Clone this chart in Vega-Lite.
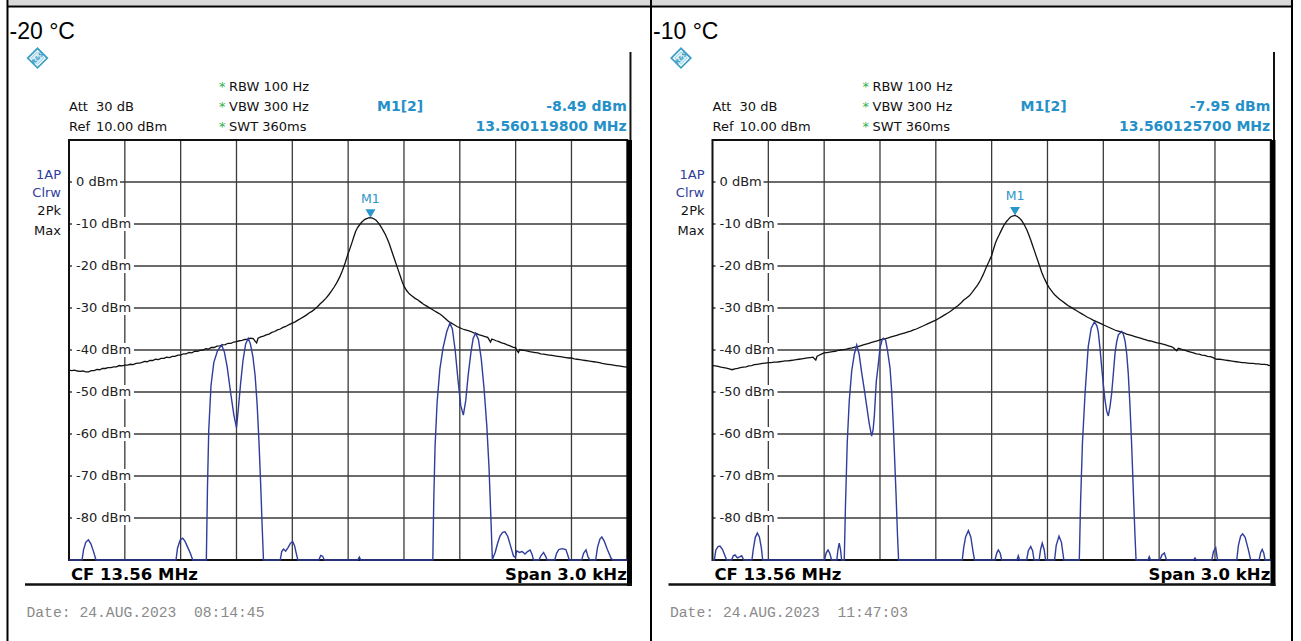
{
"$schema": "https://vega.github.io/schema/vega-lite/v6.json",
"width": 1301,
"height": 641,
"autosize": {"type": "none"},
"padding": 0,
"background": "#ffffff",
"config": {"view": {"stroke": null}, "axis": {"disable": true}},
"datasets": {
"panels": [
{"panel": "-20 °C", "marker": "M1[2]", "marker_offset_hz": 119.8, "marker_dbm": -8.49, "marker_level": "-8.49 dBm", "marker_freq": "13.560119800 MHz", "date": "Date: 24.AUG.2023\u00a0 08:14:45"},
{"panel": "-10 °C", "marker": "M1[2]", "marker_offset_hz": 125.7, "marker_dbm": -7.95, "marker_level": "-7.95 dBm", "marker_freq": "13.560125700 MHz", "date": "Date: 24.AUG.2023\u00a0 11:47:03"}
],
"freq_grid": [{"f": -1200}, {"f": -900}, {"f": -600}, {"f": -300}, {"f": 0}, {"f": 300}, {"f": 600}, {"f": 900}, {"f": 1200}],
"level_grid": [{"lvl": 0, "label": "0 dBm"}, {"lvl": -10, "label": "-10 dBm"}, {"lvl": -20, "label": "-20 dBm"}, {"lvl": -30, "label": "-30 dBm"}, {"lvl": -40, "label": "-40 dBm"}, {"lvl": -50, "label": "-50 dBm"}, {"lvl": -60, "label": "-60 dBm"}, {"lvl": -70, "label": "-70 dBm"}, {"lvl": -80, "label": "-80 dBm"}],
"minus20_clrw": [
{"f":-1500,"p":-44.8},{"f":-1485,"p":-44.9},{"f":-1470,"p":-44.8},{"f":-1455,"p":-45.0},{"f":-1440,"p":-45.1},{"f":-1425,"p":-45.0},{"f":-1410,"p":-45.2},{"f":-1395,"p":-45.2},{"f":-1380,"p":-44.9},{"f":-1365,"p":-44.9},{"f":-1350,"p":-44.6},{"f":-1335,"p":-44.7},{"f":-1320,"p":-44.4},{"f":-1305,"p":-44.4},{"f":-1290,"p":-44.2},{"f":-1275,"p":-44.2},{"f":-1260,"p":-44.0},{"f":-1245,"p":-44.0},{"f":-1230,"p":-43.7},{"f":-1215,"p":-43.8},{"f":-1200,"p":-43.6},{"f":-1185,"p":-43.6},{"f":-1170,"p":-43.4},{"f":-1155,"p":-43.5},{"f":-1140,"p":-43.2},{"f":-1125,"p":-43.1},{"f":-1110,"p":-43.0},{"f":-1095,"p":-42.7},{"f":-1080,"p":-42.8},{"f":-1065,"p":-42.5},{"f":-1050,"p":-42.5},{"f":-1035,"p":-42.2},{"f":-1020,"p":-42.3},{"f":-1005,"p":-42.0},{"f":-990,"p":-42.0},{"f":-975,"p":-41.7},{"f":-960,"p":-41.8},{"f":-945,"p":-41.5},{"f":-930,"p":-41.5},{"f":-915,"p":-41.2},{"f":-900,"p":-41.2},{"f":-885,"p":-40.9},{"f":-870,"p":-40.9},{"f":-855,"p":-40.6},{"f":-840,"p":-40.7},{"f":-825,"p":-40.3},{"f":-810,"p":-40.3},{"f":-795,"p":-40.1},{"f":-780,"p":-40.0},{"f":-765,"p":-39.7},{"f":-750,"p":-39.8},{"f":-735,"p":-39.4},{"f":-720,"p":-39.4},{"f":-705,"p":-39.1},{"f":-690,"p":-39.0},{"f":-675,"p":-38.8},{"f":-660,"p":-38.7},{"f":-645,"p":-38.4},{"f":-630,"p":-38.4},{"f":-615,"p":-38.1},{"f":-600,"p":-38.0},{"f":-585,"p":-37.8},{"f":-570,"p":-37.7},{"f":-555,"p":-37.5},{"f":-540,"p":-37.4},{"f":-525,"p":-37.2},{"f":-510,"p":-37.3},{"f":-500,"p":-37.9},{"f":-492,"p":-38.3},{"f":-484,"p":-37.2},{"f":-470,"p":-36.9},{"f":-455,"p":-36.7},{"f":-440,"p":-36.4},{"f":-425,"p":-36.2},{"f":-410,"p":-35.8},{"f":-395,"p":-35.6},{"f":-380,"p":-35.2},{"f":-365,"p":-35.0},{"f":-350,"p":-34.6},{"f":-335,"p":-34.4},{"f":-320,"p":-34.0},{"f":-300,"p":-33.6},{"f":-285,"p":-33.3},{"f":-270,"p":-32.9},{"f":-255,"p":-32.5},{"f":-240,"p":-32.1},{"f":-225,"p":-31.7},{"f":-210,"p":-31.2},{"f":-195,"p":-30.8},{"f":-180,"p":-30.3},{"f":-165,"p":-29.7},{"f":-150,"p":-29.0},{"f":-135,"p":-28.4},{"f":-120,"p":-27.7},{"f":-105,"p":-26.9},{"f":-90,"p":-26.0},{"f":-75,"p":-25.0},{"f":-60,"p":-23.9},{"f":-45,"p":-22.6},{"f":-30,"p":-21.0},{"f":-15,"p":-19.1},{"f":0,"p":-17.0},{"f":10,"p":-15.8},{"f":20,"p":-14.5},{"f":30,"p":-13.1},{"f":40,"p":-11.8},{"f":50,"p":-10.9},{"f":60,"p":-10.3},{"f":70,"p":-9.7},{"f":80,"p":-9.3},{"f":90,"p":-8.9},{"f":100,"p":-8.7},{"f":110,"p":-8.55},{"f":119.8,"p":-8.49},{"f":130,"p":-8.6},{"f":140,"p":-8.8},{"f":150,"p":-9.1},{"f":160,"p":-9.6},{"f":170,"p":-10.2},{"f":180,"p":-10.9},{"f":190,"p":-11.7},{"f":200,"p":-12.5},{"f":210,"p":-13.5},{"f":220,"p":-14.6},{"f":230,"p":-15.9},{"f":240,"p":-17.2},{"f":250,"p":-18.5},{"f":260,"p":-19.8},{"f":270,"p":-21.1},{"f":280,"p":-22.4},{"f":290,"p":-23.7},{"f":300,"p":-24.8},{"f":315,"p":-25.9},{"f":330,"p":-26.7},{"f":345,"p":-27.2},{"f":360,"p":-27.7},{"f":375,"p":-28.1},{"f":390,"p":-28.6},{"f":405,"p":-29.1},{"f":420,"p":-29.5},{"f":435,"p":-29.9},{"f":450,"p":-30.3},{"f":465,"p":-30.7},{"f":480,"p":-31.1},{"f":495,"p":-31.5},{"f":510,"p":-32.0},{"f":525,"p":-32.6},{"f":540,"p":-33.2},{"f":555,"p":-33.6},{"f":570,"p":-34.0},{"f":585,"p":-34.4},{"f":600,"p":-34.7},{"f":615,"p":-35.0},{"f":630,"p":-35.2},{"f":645,"p":-35.4},{"f":660,"p":-35.6},{"f":675,"p":-35.9},{"f":690,"p":-36.1},{"f":705,"p":-36.4},{"f":720,"p":-36.6},{"f":735,"p":-36.8},{"f":750,"p":-37.0},{"f":758,"p":-37.6},{"f":765,"p":-38.1},{"f":772,"p":-37.4},{"f":780,"p":-37.5},{"f":795,"p":-37.8},{"f":810,"p":-38.0},{"f":825,"p":-38.3},{"f":840,"p":-38.5},{"f":855,"p":-38.8},{"f":870,"p":-39.0},{"f":885,"p":-39.3},{"f":900,"p":-39.5},{"f":908,"p":-40.2},{"f":915,"p":-40.6},{"f":922,"p":-39.9},{"f":930,"p":-40.0},{"f":945,"p":-40.1},{"f":960,"p":-40.2},{"f":975,"p":-40.4},{"f":990,"p":-40.5},{"f":1005,"p":-40.6},{"f":1020,"p":-40.7},{"f":1035,"p":-40.9},{"f":1050,"p":-41.0},{"f":1065,"p":-41.1},{"f":1080,"p":-41.2},{"f":1095,"p":-41.3},{"f":1110,"p":-41.4},{"f":1125,"p":-41.5},{"f":1140,"p":-41.6},{"f":1155,"p":-41.7},{"f":1170,"p":-41.8},{"f":1185,"p":-41.9},{"f":1200,"p":-41.9},{"f":1215,"p":-42.1},{"f":1230,"p":-42.2},{"f":1245,"p":-42.3},{"f":1260,"p":-42.4},{"f":1275,"p":-42.5},{"f":1290,"p":-42.6},{"f":1305,"p":-42.7},{"f":1320,"p":-42.8},{"f":1335,"p":-42.9},{"f":1350,"p":-43.0},{"f":1365,"p":-43.2},{"f":1380,"p":-43.3},{"f":1395,"p":-43.4},{"f":1410,"p":-43.5},{"f":1425,"p":-43.6},{"f":1440,"p":-43.7},{"f":1455,"p":-43.8},{"f":1470,"p":-43.9},{"f":1485,"p":-44.0},{"f":1500,"p":-44.1}
],
"minus20_max": [
{"f":-1500,"p":-90},{"f":-1430,"p":-90},{"f":-1422,"p":-87.6},{"f":-1410,"p":-85.8},{"f":-1396,"p":-85.2},{"f":-1383,"p":-86.1},{"f":-1368,"p":-88.0},{"f":-1355,"p":-90},
{"f":-925,"p":-90},{"f":-917,"p":-87.2},{"f":-903,"p":-85.3},{"f":-889,"p":-84.8},{"f":-877,"p":-85.5},{"f":-862,"p":-87.0},{"f":-848,"p":-88.4},{"f":-835,"p":-90},
{"f":-762,"p":-90},{"f":-756,"p":-73},{"f":-749,"p":-59},{"f":-737,"p":-48.5},{"f":-722,"p":-43},{"f":-702,"p":-40.2},{"f":-680,"p":-38.8},{"f":-665,"p":-40.5},{"f":-650,"p":-44},{"f":-632,"p":-50},{"f":-614,"p":-55.5},{"f":-600,"p":-58.5},{"f":-590,"p":-54},{"f":-578,"p":-48},{"f":-565,"p":-42.5},{"f":-551,"p":-38.6},{"f":-537,"p":-37.2},{"f":-525,"p":-38.6},{"f":-512,"p":-41.5},{"f":-500,"p":-46},{"f":-489,"p":-53},{"f":-479,"p":-62},{"f":-470,"p":-72},{"f":-462,"p":-82},{"f":-455,"p":-90},
{"f":-365,"p":-90},{"f":-357,"p":-88.0},{"f":-347,"p":-87.4},{"f":-336,"p":-87.9},{"f":-322,"p":-87.0},{"f":-310,"p":-86.0},{"f":-298,"p":-85.6},{"f":-288,"p":-86.6},{"f":-278,"p":-88.6},{"f":-270,"p":-90},
{"f":-158,"p":-90},{"f":-147,"p":-88.9},{"f":-137,"p":-89.1},{"f":-128,"p":-90},
{"f":52,"p":-90},{"f":60,"p":-89.3},{"f":68,"p":-90},
{"f":455,"p":-90},{"f":460,"p":-76},{"f":467,"p":-63},{"f":478,"p":-52.5},{"f":493,"p":-44.5},{"f":510,"p":-39.5},{"f":530,"p":-35.6},{"f":547,"p":-33.6},{"f":560,"p":-35},{"f":575,"p":-40},{"f":590,"p":-47},{"f":605,"p":-53.2},{"f":619,"p":-55.5},{"f":632,"p":-52},{"f":645,"p":-46},{"f":660,"p":-40.5},{"f":672,"p":-37.2},{"f":685,"p":-36.0},{"f":700,"p":-37.5},{"f":715,"p":-42},{"f":730,"p":-49},{"f":745,"p":-58},{"f":757,"p":-68},{"f":767,"p":-80},{"f":775,"p":-90},
{"f":780,"p":-89.3},{"f":790,"p":-88.2},{"f":802,"p":-86.2},{"f":816,"p":-84.3},{"f":830,"p":-83.4},{"f":843,"p":-83.3},{"f":858,"p":-84.4},{"f":873,"p":-86.7},{"f":888,"p":-89.0},{"f":898,"p":-89.4},{"f":906,"p":-87.8},{"f":920,"p":-88.2},{"f":935,"p":-88.0},{"f":950,"p":-88.6},{"f":964,"p":-88.0},{"f":978,"p":-87.6},{"f":988,"p":-88.6},{"f":996,"p":-90},
{"f":1025,"p":-90},{"f":1036,"p":-89.0},{"f":1050,"p":-88.2},{"f":1062,"p":-89.2},{"f":1070,"p":-90},
{"f":1110,"p":-90},{"f":1120,"p":-88.4},{"f":1132,"p":-87.5},{"f":1150,"p":-87.3},{"f":1170,"p":-87.5},{"f":1180,"p":-88.8},{"f":1188,"p":-90},
{"f":1255,"p":-90},{"f":1265,"p":-88.4},{"f":1278,"p":-87.6},{"f":1290,"p":-89.4},{"f":1300,"p":-90},
{"f":1330,"p":-90},{"f":1340,"p":-87},{"f":1353,"p":-85.0},{"f":1363,"p":-84.5},{"f":1376,"p":-85.5},{"f":1393,"p":-87.5},{"f":1413,"p":-89.6},{"f":1423,"p":-90},{"f":1500,"p":-90}
],
"minus10_clrw": [
{"f":-1500,"p":-43.7},{"f":-1485,"p":-43.8},{"f":-1470,"p":-43.9},{"f":-1455,"p":-44.1},{"f":-1440,"p":-44.2},{"f":-1425,"p":-44.3},{"f":-1410,"p":-44.5},{"f":-1395,"p":-44.7},{"f":-1380,"p":-44.5},{"f":-1365,"p":-44.4},{"f":-1350,"p":-44.2},{"f":-1335,"p":-44.1},{"f":-1320,"p":-44.0},{"f":-1305,"p":-43.8},{"f":-1290,"p":-43.7},{"f":-1275,"p":-43.5},{"f":-1260,"p":-43.4},{"f":-1245,"p":-43.3},{"f":-1230,"p":-43.2},{"f":-1215,"p":-43.1},{"f":-1200,"p":-43.0},{"f":-1185,"p":-43.0},{"f":-1170,"p":-42.9},{"f":-1155,"p":-42.9},{"f":-1140,"p":-42.8},{"f":-1125,"p":-42.7},{"f":-1110,"p":-42.6},{"f":-1095,"p":-42.6},{"f":-1080,"p":-42.5},{"f":-1065,"p":-42.4},{"f":-1050,"p":-42.3},{"f":-1035,"p":-42.2},{"f":-1020,"p":-42.1},{"f":-1005,"p":-42.0},{"f":-990,"p":-41.9},{"f":-975,"p":-41.8},{"f":-960,"p":-41.7},{"f":-952,"p":-42.1},{"f":-945,"p":-42.4},{"f":-938,"p":-41.5},{"f":-930,"p":-41.3},{"f":-915,"p":-41.0},{"f":-900,"p":-40.7},{"f":-885,"p":-40.6},{"f":-870,"p":-40.5},{"f":-855,"p":-40.4},{"f":-840,"p":-40.3},{"f":-825,"p":-40.1},{"f":-810,"p":-40.0},{"f":-795,"p":-39.9},{"f":-780,"p":-39.8},{"f":-765,"p":-39.6},{"f":-750,"p":-39.5},{"f":-735,"p":-39.3},{"f":-720,"p":-39.2},{"f":-705,"p":-39.0},{"f":-690,"p":-38.8},{"f":-675,"p":-38.6},{"f":-660,"p":-38.4},{"f":-645,"p":-38.2},{"f":-630,"p":-38.0},{"f":-615,"p":-37.8},{"f":-600,"p":-37.6},{"f":-585,"p":-37.4},{"f":-570,"p":-37.3},{"f":-555,"p":-37.1},{"f":-540,"p":-36.9},{"f":-525,"p":-36.7},{"f":-510,"p":-36.5},{"f":-495,"p":-36.3},{"f":-480,"p":-36.1},{"f":-465,"p":-35.9},{"f":-450,"p":-35.7},{"f":-435,"p":-35.5},{"f":-420,"p":-35.2},{"f":-405,"p":-35.0},{"f":-390,"p":-34.7},{"f":-375,"p":-34.4},{"f":-360,"p":-34.1},{"f":-345,"p":-33.8},{"f":-330,"p":-33.5},{"f":-315,"p":-33.2},{"f":-300,"p":-32.9},{"f":-285,"p":-32.5},{"f":-270,"p":-32.1},{"f":-255,"p":-31.7},{"f":-240,"p":-31.3},{"f":-225,"p":-30.9},{"f":-210,"p":-30.4},{"f":-195,"p":-29.9},{"f":-180,"p":-29.4},{"f":-165,"p":-28.8},{"f":-150,"p":-28.1},{"f":-135,"p":-27.6},{"f":-120,"p":-27.1},{"f":-105,"p":-26.3},{"f":-90,"p":-25.4},{"f":-75,"p":-24.5},{"f":-60,"p":-23.4},{"f":-45,"p":-22.0},{"f":-30,"p":-20.4},{"f":-15,"p":-19.0},{"f":0,"p":-17.5},{"f":10,"p":-16.0},{"f":20,"p":-14.6},{"f":30,"p":-13.5},{"f":40,"p":-12.6},{"f":50,"p":-11.7},{"f":60,"p":-10.8},{"f":70,"p":-10.0},{"f":80,"p":-9.4},{"f":90,"p":-8.9},{"f":100,"p":-8.4},{"f":112,"p":-8.1},{"f":125.7,"p":-7.95},{"f":138,"p":-8.2},{"f":150,"p":-8.6},{"f":160,"p":-9.1},{"f":170,"p":-9.8},{"f":180,"p":-10.6},{"f":190,"p":-11.5},{"f":200,"p":-12.6},{"f":210,"p":-13.8},{"f":220,"p":-15.1},{"f":230,"p":-16.4},{"f":240,"p":-17.7},{"f":250,"p":-19.0},{"f":260,"p":-20.3},{"f":270,"p":-21.6},{"f":280,"p":-22.7},{"f":290,"p":-23.6},{"f":300,"p":-24.5},{"f":310,"p":-25.2},{"f":320,"p":-25.8},{"f":330,"p":-26.4},{"f":340,"p":-26.9},{"f":350,"p":-27.3},{"f":365,"p":-27.9},{"f":380,"p":-28.4},{"f":395,"p":-28.9},{"f":410,"p":-29.4},{"f":425,"p":-29.8},{"f":440,"p":-30.2},{"f":455,"p":-30.6},{"f":470,"p":-31.0},{"f":485,"p":-31.4},{"f":500,"p":-31.8},{"f":515,"p":-32.2},{"f":530,"p":-32.5},{"f":545,"p":-32.9},{"f":560,"p":-33.2},{"f":575,"p":-33.5},{"f":590,"p":-33.8},{"f":605,"p":-34.1},{"f":620,"p":-34.4},{"f":635,"p":-34.7},{"f":650,"p":-35.0},{"f":665,"p":-35.3},{"f":680,"p":-35.5},{"f":695,"p":-35.7},{"f":710,"p":-35.9},{"f":725,"p":-36.2},{"f":740,"p":-36.4},{"f":755,"p":-36.6},{"f":770,"p":-36.8},{"f":785,"p":-37.0},{"f":800,"p":-37.2},{"f":815,"p":-37.4},{"f":830,"p":-37.6},{"f":845,"p":-37.8},{"f":860,"p":-37.9},{"f":875,"p":-38.1},{"f":890,"p":-38.3},{"f":905,"p":-38.4},{"f":920,"p":-38.6},{"f":935,"p":-38.8},{"f":950,"p":-39.0},{"f":965,"p":-39.2},{"f":975,"p":-39.4},{"f":985,"p":-39.8},{"f":995,"p":-40.2},{"f":1003,"p":-39.6},{"f":1010,"p":-39.7},{"f":1025,"p":-39.9},{"f":1040,"p":-40.1},{"f":1055,"p":-40.3},{"f":1070,"p":-40.5},{"f":1085,"p":-40.7},{"f":1100,"p":-40.9},{"f":1115,"p":-41.0},{"f":1130,"p":-41.2},{"f":1145,"p":-41.3},{"f":1160,"p":-41.5},{"f":1175,"p":-41.6},{"f":1190,"p":-41.8},{"f":1203,"p":-42.1},{"f":1210,"p":-42.2},{"f":1225,"p":-42.2},{"f":1240,"p":-42.3},{"f":1255,"p":-42.4},{"f":1270,"p":-42.5},{"f":1285,"p":-42.6},{"f":1300,"p":-42.7},{"f":1315,"p":-42.8},{"f":1330,"p":-42.9},{"f":1345,"p":-43.0},{"f":1360,"p":-43.0},{"f":1375,"p":-43.1},{"f":1390,"p":-43.2},{"f":1405,"p":-43.2},{"f":1420,"p":-43.3},{"f":1435,"p":-43.3},{"f":1450,"p":-43.4},{"f":1465,"p":-43.4},{"f":1480,"p":-43.5},{"f":1490,"p":-43.7},{"f":1500,"p":-43.6}
],
"minus10_max": [
{"f":-1500,"p":-90},{"f":-1490,"p":-90},{"f":-1482,"p":-87.6},{"f":-1470,"p":-86.8},{"f":-1460,"p":-86.7},{"f":-1446,"p":-87.5},{"f":-1433,"p":-89},{"f":-1424,"p":-90},{"f":-1398,"p":-90},{"f":-1388,"p":-89.0},{"f":-1379,"p":-88.8},{"f":-1366,"p":-89.5},{"f":-1352,"p":-89.2},{"f":-1343,"p":-89.0},{"f":-1332,"p":-90},
{"f":-1288,"p":-90},{"f":-1281,"p":-87.5},{"f":-1270,"p":-84.6},{"f":-1259,"p":-83.6},{"f":-1248,"p":-84.5},{"f":-1238,"p":-87.0},{"f":-1230,"p":-90},
{"f":-898,"p":-90},{"f":-889,"p":-88.3},{"f":-879,"p":-87.6},{"f":-869,"p":-88.5},{"f":-860,"p":-90},{"f":-832,"p":-90},{"f":-826,"p":-87.6},{"f":-819,"p":-86.0},{"f":-812,"p":-87.6},{"f":-806,"p":-90},
{"f":-792,"p":-90},{"f":-786,"p":-78},{"f":-776,"p":-62},{"f":-765,"p":-52},{"f":-752,"p":-45},{"f":-738,"p":-41},{"f":-725,"p":-38.8},{"f":-712,"p":-41},{"f":-698,"p":-45.5},{"f":-684,"p":-49.5},{"f":-671,"p":-53.5},{"f":-658,"p":-57.5},{"f":-645,"p":-60.5},{"f":-637,"p":-59},{"f":-630,"p":-55.5},{"f":-620,"p":-47.5},{"f":-610,"p":-43.8},{"f":-600,"p":-39.5},{"f":-590,"p":-37.8},{"f":-582,"p":-37.2},{"f":-570,"p":-37.6},{"f":-560,"p":-40},{"f":-546,"p":-44.3},{"f":-537,"p":-50},{"f":-528,"p":-58.3},{"f":-514,"p":-74},{"f":-506,"p":-84},{"f":-500,"p":-90},
{"f":-158,"p":-90},{"f":-150,"p":-87},{"f":-140,"p":-84.5},{"f":-125,"p":-83.0},{"f":-112,"p":-84.5},{"f":-100,"p":-88},{"f":-92,"p":-90},
{"f":18,"p":-90},{"f":28,"p":-88.3},{"f":36,"p":-87.6},{"f":46,"p":-88.4},{"f":54,"p":-90},
{"f":136,"p":-90},{"f":143,"p":-89.0},{"f":150,"p":-90},
{"f":188,"p":-90},{"f":197,"p":-87.8},{"f":210,"p":-86.8},{"f":220,"p":-87.8},{"f":228,"p":-90},
{"f":255,"p":-90},{"f":263,"p":-87.5},{"f":272,"p":-86.0},{"f":282,"p":-87.5},{"f":290,"p":-90},
{"f":338,"p":-90},{"f":347,"p":-86.5},{"f":362,"p":-84.3},{"f":375,"p":-85.8},{"f":388,"p":-90},
{"f":471,"p":-90},{"f":478,"p":-76},{"f":488,"p":-62},{"f":502,"p":-50.3},{"f":519,"p":-39.2},{"f":535,"p":-34.8},{"f":552,"p":-33.3},{"f":565,"p":-34.2},{"f":573,"p":-35.7},{"f":582,"p":-39.5},{"f":591,"p":-44},{"f":600,"p":-48.2},{"f":609,"p":-51.9},{"f":618,"p":-54.5},{"f":627,"p":-55.7},{"f":636,"p":-53.5},{"f":645,"p":-50.3},{"f":654,"p":-45.6},{"f":663,"p":-40.8},{"f":672,"p":-38.0},{"f":681,"p":-36.4},{"f":699,"p":-35.6},{"f":708,"p":-36.3},{"f":717,"p":-37.9},{"f":726,"p":-41},{"f":734,"p":-45.5},{"f":743,"p":-53},{"f":752,"p":-62.2},{"f":760,"p":-72},{"f":765,"p":-78.1},{"f":771,"p":-85},{"f":776,"p":-90},
{"f":840,"p":-90},{"f":847,"p":-89.2},{"f":854,"p":-90},
{"f":904,"p":-90},{"f":915,"p":-88.8},{"f":928,"p":-88.3},{"f":940,"p":-90},
{"f":1085,"p":-90},{"f":1093,"p":-89.5},{"f":1100,"p":-90},
{"f":1183,"p":-90},{"f":1192,"p":-88.0},{"f":1204,"p":-87.1},{"f":1214,"p":-90},
{"f":1317,"p":-90},{"f":1326,"p":-86.5},{"f":1338,"p":-84.3},{"f":1349,"p":-83.8},{"f":1362,"p":-84.6},{"f":1378,"p":-87.3},{"f":1392,"p":-90},
{"f":1437,"p":-90},{"f":1446,"p":-88.2},{"f":1454,"p":-87.5},{"f":1462,"p":-88.3},{"f":1469,"p":-90},{"f":1500,"p":-90}
]
},
"layer": [
{
"layer": [
{"data": {"values": [{}]}, "mark": {"type": "rect", "color": "#d9d9d9"}, "encoding": {"x": {"datum": -1825.1, "type": "quantitative", "scale": {"domain": [-1870.77, 5120.15], "nice": false, "zero": false}, "axis": null}, "x2": {"datum": 5066.4}, "y": {"datum": 43.3333, "type": "quantitative", "scale": {"domain": [-109.2857, 43.3333], "nice": false, "zero": false}, "axis": null}, "y2": {"datum": 42.02}}},
{"data": {"values": [{}]}, "mark": {"type": "rule", "color": "#000000", "strokeWidth": 2}, "encoding": {"x": {"datum": -1830.5, "type": "quantitative", "axis": null}, "x2": {"datum": 5071.8}, "y": {"datum": 41.79, "type": "quantitative", "axis": null}}},
{"data": {"values": [{}]}, "mark": {"type": "rule", "color": "#000000", "strokeWidth": 2}, "encoding": {"x": {"datum": -1830.5, "type": "quantitative", "axis": null}, "y": {"datum": 43.3333, "type": "quantitative", "axis": null}, "y2": {"datum": -109.2857}}},
{"data": {"values": [{}]}, "mark": {"type": "rule", "color": "#000000", "strokeWidth": 2}, "encoding": {"x": {"datum": 1627.4, "type": "quantitative", "axis": null}, "y": {"datum": 43.3333, "type": "quantitative", "axis": null}, "y2": {"datum": -109.2857}}},
{"data": {"values": [{}]}, "mark": {"type": "rule", "color": "#000000", "strokeWidth": 2}, "encoding": {"x": {"datum": 5071.8, "type": "quantitative", "axis": null}, "y": {"datum": 43.3333, "type": "quantitative", "axis": null}, "y2": {"datum": -109.2857}}},

{"data": {"name": "panels"}, "transform": [{"filter": {"field": "panel", "equal": "-20 °C"}}], "mark": {"type": "text", "align": "left", "baseline": "alphabetic", "font": "Liberation Sans", "fontSize": 23, "color": "#000000"}, "encoding": {"x": {"datum": -1819.7, "type": "quantitative", "axis": null}, "y": {"datum": 33.93, "type": "quantitative", "axis": null}, "text": {"field": "panel"}}},
{"data": {"values": [{}]}, "mark": {"type": "point", "shape": "diamond", "size": 380, "filled": true, "fill": "#ffffff", "stroke": "#3d9fc4", "strokeWidth": 1.8, "opacity": 1}, "encoding": {"x": {"datum": -1669.3, "type": "quantitative", "axis": null}, "y": {"datum": 29.52, "type": "quantitative", "axis": null}}},
{"data": {"values": [{}]}, "mark": {"type": "point", "shape": "diamond", "size": 160, "filled": true, "fill": "#d6eef7", "stroke": "#7cc0dc", "strokeWidth": 0.8, "opacity": 1}, "encoding": {"x": {"datum": -1669.3, "type": "quantitative", "axis": null}, "y": {"datum": 29.52, "type": "quantitative", "axis": null}}},
{"data": {"values": [{}]}, "mark": {"type": "text", "text": "R&S", "font": "DejaVu Sans", "fontSize": 6, "fontWeight": "bold", "color": "#3d9fc4", "angle": 315, "align": "center", "baseline": "middle"}, "encoding": {"x": {"datum": -1669.3, "type": "quantitative", "axis": null}, "y": {"datum": 29.52, "type": "quantitative", "axis": null}}},

{"data": {"values": [{}]}, "mark": {"type": "text", "text": ["Att", "Ref"], "lineHeight": 20, "align": "left", "baseline": "middle", "font": "DejaVu Sans", "fontSize": 13, "color": "#111111"}, "encoding": {"x": {"datum": -1500, "type": "quantitative", "axis": null}, "y": {"datum": 17.86, "type": "quantitative", "axis": null}}},
{"data": {"values": [{}]}, "mark": {"type": "text", "text": ["30 dB", "10.00 dBm"], "lineHeight": 20, "align": "left", "baseline": "middle", "font": "DejaVu Sans", "fontSize": 13, "color": "#111111"}, "encoding": {"x": {"datum": -1354.9, "type": "quantitative", "axis": null}, "y": {"datum": 17.86, "type": "quantitative", "axis": null}}},
{"data": {"values": [{}]}, "mark": {"type": "text", "text": ["*", "*", "*"], "lineHeight": 20, "align": "left", "baseline": "middle", "font": "DejaVu Sans", "fontSize": 13, "color": "#2fb34a"}, "encoding": {"x": {"datum": -694, "type": "quantitative", "axis": null}, "y": {"datum": 22.62, "type": "quantitative", "axis": null}}},
{"data": {"values": [{}]}, "mark": {"type": "text", "text": ["RBW 100 Hz", "VBW 300 Hz", "SWT 360ms"], "lineHeight": 20, "align": "left", "baseline": "middle", "font": "DejaVu Sans", "fontSize": 13, "color": "#111111"}, "encoding": {"x": {"datum": -640, "type": "quantitative", "axis": null}, "y": {"datum": 22.62, "type": "quantitative", "axis": null}}},
{"data": {"name": "panels"}, "transform": [{"filter": {"field": "panel", "equal": "-20 °C"}}], "mark": {"type": "text", "align": "left", "baseline": "middle", "font": "DejaVu Sans", "fontWeight": "bold", "fontSize": 14, "color": "#2590c8"}, "encoding": {"x": {"datum": 155, "type": "quantitative", "axis": null}, "y": {"datum": 17.86, "type": "quantitative", "axis": null}, "text": {"field": "marker"}}},
{"data": {"name": "panels"}, "transform": [{"filter": {"field": "panel", "equal": "-20 °C"}}], "mark": {"type": "text", "align": "right", "baseline": "middle", "font": "DejaVu Sans", "fontWeight": "bold", "fontSize": 14, "color": "#2590c8"}, "encoding": {"x": {"datum": 1497, "type": "quantitative", "axis": null}, "y": {"datum": 17.86, "type": "quantitative", "axis": null}, "text": {"field": "marker_level"}}},
{"data": {"name": "panels"}, "transform": [{"filter": {"field": "panel", "equal": "-20 °C"}}], "mark": {"type": "text", "align": "right", "baseline": "middle", "font": "DejaVu Sans", "fontWeight": "bold", "fontSize": 14, "color": "#2590c8"}, "encoding": {"x": {"datum": 1497, "type": "quantitative", "axis": null}, "y": {"datum": 13.10, "type": "quantitative", "axis": null}, "text": {"field": "marker_freq"}}},
{"data": {"values": [{}]}, "mark": {"type": "text", "text": ["1AP", "Clrw"], "lineHeight": 18, "align": "right", "baseline": "middle", "font": "DejaVu Sans", "fontSize": 13, "color": "#2f3d9c"}, "encoding": {"x": {"datum": -1543, "type": "quantitative", "axis": null}, "y": {"datum": 1.67, "type": "quantitative", "axis": null}}},
{"data": {"values": [{}]}, "mark": {"type": "text", "text": ["2Pk", "Max"], "lineHeight": 20, "align": "right", "baseline": "middle", "font": "DejaVu Sans", "fontSize": 13, "color": "#111111"}, "encoding": {"x": {"datum": -1543, "type": "quantitative", "axis": null}, "y": {"datum": -6.90, "type": "quantitative", "axis": null}}},

{"data": {"name": "freq_grid"}, "mark": {"type": "rule", "color": "#3a3a3a", "strokeWidth": 1.3}, "encoding": {"x": {"field": "f", "type": "quantitative", "axis": null}, "y": {"datum": 10, "type": "quantitative", "axis": null}, "y2": {"datum": -90}}},
{"data": {"name": "level_grid"}, "mark": {"type": "rule", "color": "#3a3a3a", "strokeWidth": 1.3}, "encoding": {"y": {"field": "lvl", "type": "quantitative", "axis": null}, "x": {"datum": -1500, "type": "quantitative", "axis": null}, "x2": {"datum": 1500}}},
{"data": {"name": "level_grid"}, "transform": [{"filter": "datum.lvl === 0"}], "mark": {"type": "rule", "color": "#ffffff", "strokeWidth": 14}, "encoding": {"y": {"field": "lvl", "type": "quantitative", "axis": null}, "x": {"datum": -1484, "type": "quantitative", "axis": null}, "x2": {"datum": -1226}}},
{"data": {"name": "level_grid"}, "transform": [{"filter": "datum.lvl < 0"}], "mark": {"type": "rule", "color": "#ffffff", "strokeWidth": 14}, "encoding": {"y": {"field": "lvl", "type": "quantitative", "axis": null}, "x": {"datum": -1484, "type": "quantitative", "axis": null}, "x2": {"datum": -1151}}},
{"data": {"name": "level_grid"}, "mark": {"type": "text", "align": "left", "baseline": "middle", "font": "DejaVu Sans", "fontSize": 13, "color": "#222222"}, "encoding": {"y": {"field": "lvl", "type": "quantitative", "axis": null}, "x": {"datum": -1462.4, "type": "quantitative", "axis": null}, "text": {"field": "label"}}},
{"data": {"values": [{}]}, "mark": {"type": "rect", "filled": false, "color": "#111111", "strokeWidth": 2}, "encoding": {"x": {"datum": -1500, "type": "quantitative", "axis": null}, "x2": {"datum": 1500}, "y": {"datum": 10, "type": "quantitative", "axis": null}, "y2": {"datum": -90}}},
{"data": {"values": [{}]}, "mark": {"type": "rule", "color": "#000000", "strokeWidth": 5}, "encoding": {"x": {"datum": 1511.8, "type": "quantitative", "axis": null}, "y": {"datum": 10, "type": "quantitative", "axis": null}, "y2": {"datum": -96.19}}},
{"data": {"values": [{}]}, "mark": {"type": "rule", "color": "#111111", "strokeWidth": 2}, "encoding": {"x": {"datum": 1517.1, "type": "quantitative", "axis": null}, "y": {"datum": 30.95, "type": "quantitative", "axis": null}, "y2": {"datum": 10}}},
{"data": {"values": [{}]}, "mark": {"type": "rule", "color": "#111111", "strokeWidth": 2.5}, "encoding": {"x": {"datum": -1736.4, "type": "quantitative", "axis": null}, "x2": {"datum": 1525.3}, "y": {"datum": -95.83, "type": "quantitative", "axis": null}}},
{"data": {"values": [{}]}, "mark": {"type": "text", "text": "CF 13.56 MHz", "align": "left", "baseline": "alphabetic", "font": "DejaVu Sans", "fontWeight": "bold", "fontSize": 16.5, "color": "#000000"}, "encoding": {"x": {"datum": -1489.3, "type": "quantitative", "axis": null}, "y": {"datum": -94.76, "type": "quantitative", "axis": null}}},
{"data": {"values": [{}]}, "mark": {"type": "text", "text": "Span 3.0 kHz", "align": "right", "baseline": "alphabetic", "font": "DejaVu Sans", "fontWeight": "bold", "fontSize": 16.5, "color": "#000000"}, "encoding": {"x": {"datum": 1497, "type": "quantitative", "axis": null}, "y": {"datum": -94.76, "type": "quantitative", "axis": null}}},
{"data": {"name": "panels"}, "transform": [{"filter": {"field": "panel", "equal": "-20 °C"}}], "mark": {"type": "text", "align": "left", "baseline": "alphabetic", "font": "Liberation Mono", "fontSize": 14.7, "color": "#8a8a8a"}, "encoding": {"x": {"datum": -1728.4, "type": "quantitative", "axis": null}, "y": {"datum": -103.57, "type": "quantitative", "axis": null}, "text": {"field": "date"}}},

{"data": {"name": "minus20_clrw"}, "mark": {"type": "line", "color": "#111111", "strokeWidth": 1.3}, "encoding": {"x": {"field": "f", "type": "quantitative", "axis": null}, "y": {"field": "p", "type": "quantitative", "axis": null}}},
{"data": {"name": "minus20_max"}, "mark": {"type": "line", "color": "#2f3d9c", "strokeWidth": 1.4}, "encoding": {"x": {"field": "f", "type": "quantitative", "axis": null}, "y": {"field": "p", "type": "quantitative", "axis": null}}},
{"data": {"name": "panels"}, "transform": [{"filter": {"field": "panel", "equal": "-20 °C"}}], "mark": {"type": "point", "shape": "M-1,-1.7L1,-1.7L0,0Z", "size": 100, "filled": true, "color": "#2a96cc", "opacity": 1}, "encoding": {"x": {"field": "marker_offset_hz", "type": "quantitative", "axis": null}, "y": {"field": "marker_dbm", "type": "quantitative", "axis": null}}},
{"data": {"name": "panels"}, "transform": [{"filter": {"field": "panel", "equal": "-20 °C"}}], "mark": {"type": "text", "text": "M1", "dy": -19, "align": "center", "baseline": "middle", "font": "DejaVu Sans", "fontSize": 12.5, "color": "#2a96cc"}, "encoding": {"x": {"field": "marker_offset_hz", "type": "quantitative", "axis": null}, "y": {"field": "marker_dbm", "type": "quantitative", "axis": null}}}
]
},
{
"layer": [
{"data": {"name": "panels"}, "transform": [{"filter": {"field": "panel", "equal": "-10 °C"}}], "mark": {"type": "text", "align": "left", "baseline": "alphabetic", "font": "Liberation Sans", "fontSize": 23, "color": "#000000"}, "encoding": {"x": {"datum": -1819.7, "type": "quantitative", "scale": {"domain": [-5328.6, 1662.3], "nice": false, "zero": false}, "axis": null}, "y": {"datum": 33.93, "type": "quantitative", "scale": {"domain": [-109.2857, 43.3333], "nice": false, "zero": false}, "axis": null}, "text": {"field": "panel"}}},
{"data": {"values": [{}]}, "mark": {"type": "point", "shape": "diamond", "size": 380, "filled": true, "fill": "#ffffff", "stroke": "#3d9fc4", "strokeWidth": 1.8, "opacity": 1}, "encoding": {"x": {"datum": -1669.3, "type": "quantitative", "axis": null}, "y": {"datum": 29.52, "type": "quantitative", "axis": null}}},
{"data": {"values": [{}]}, "mark": {"type": "point", "shape": "diamond", "size": 160, "filled": true, "fill": "#d6eef7", "stroke": "#7cc0dc", "strokeWidth": 0.8, "opacity": 1}, "encoding": {"x": {"datum": -1669.3, "type": "quantitative", "axis": null}, "y": {"datum": 29.52, "type": "quantitative", "axis": null}}},
{"data": {"values": [{}]}, "mark": {"type": "text", "text": "R&S", "font": "DejaVu Sans", "fontSize": 6, "fontWeight": "bold", "color": "#3d9fc4", "angle": 315, "align": "center", "baseline": "middle"}, "encoding": {"x": {"datum": -1669.3, "type": "quantitative", "axis": null}, "y": {"datum": 29.52, "type": "quantitative", "axis": null}}},

{"data": {"values": [{}]}, "mark": {"type": "text", "text": ["Att", "Ref"], "lineHeight": 20, "align": "left", "baseline": "middle", "font": "DejaVu Sans", "fontSize": 13, "color": "#111111"}, "encoding": {"x": {"datum": -1500, "type": "quantitative", "axis": null}, "y": {"datum": 17.86, "type": "quantitative", "axis": null}}},
{"data": {"values": [{}]}, "mark": {"type": "text", "text": ["30 dB", "10.00 dBm"], "lineHeight": 20, "align": "left", "baseline": "middle", "font": "DejaVu Sans", "fontSize": 13, "color": "#111111"}, "encoding": {"x": {"datum": -1354.9, "type": "quantitative", "axis": null}, "y": {"datum": 17.86, "type": "quantitative", "axis": null}}},
{"data": {"values": [{}]}, "mark": {"type": "text", "text": ["*", "*", "*"], "lineHeight": 20, "align": "left", "baseline": "middle", "font": "DejaVu Sans", "fontSize": 13, "color": "#2fb34a"}, "encoding": {"x": {"datum": -694, "type": "quantitative", "axis": null}, "y": {"datum": 22.62, "type": "quantitative", "axis": null}}},
{"data": {"values": [{}]}, "mark": {"type": "text", "text": ["RBW 100 Hz", "VBW 300 Hz", "SWT 360ms"], "lineHeight": 20, "align": "left", "baseline": "middle", "font": "DejaVu Sans", "fontSize": 13, "color": "#111111"}, "encoding": {"x": {"datum": -640, "type": "quantitative", "axis": null}, "y": {"datum": 22.62, "type": "quantitative", "axis": null}}},
{"data": {"name": "panels"}, "transform": [{"filter": {"field": "panel", "equal": "-10 °C"}}], "mark": {"type": "text", "align": "left", "baseline": "middle", "font": "DejaVu Sans", "fontWeight": "bold", "fontSize": 14, "color": "#2590c8"}, "encoding": {"x": {"datum": 155, "type": "quantitative", "axis": null}, "y": {"datum": 17.86, "type": "quantitative", "axis": null}, "text": {"field": "marker"}}},
{"data": {"name": "panels"}, "transform": [{"filter": {"field": "panel", "equal": "-10 °C"}}], "mark": {"type": "text", "align": "right", "baseline": "middle", "font": "DejaVu Sans", "fontWeight": "bold", "fontSize": 14, "color": "#2590c8"}, "encoding": {"x": {"datum": 1497, "type": "quantitative", "axis": null}, "y": {"datum": 17.86, "type": "quantitative", "axis": null}, "text": {"field": "marker_level"}}},
{"data": {"name": "panels"}, "transform": [{"filter": {"field": "panel", "equal": "-10 °C"}}], "mark": {"type": "text", "align": "right", "baseline": "middle", "font": "DejaVu Sans", "fontWeight": "bold", "fontSize": 14, "color": "#2590c8"}, "encoding": {"x": {"datum": 1497, "type": "quantitative", "axis": null}, "y": {"datum": 13.10, "type": "quantitative", "axis": null}, "text": {"field": "marker_freq"}}},
{"data": {"values": [{}]}, "mark": {"type": "text", "text": ["1AP", "Clrw"], "lineHeight": 18, "align": "right", "baseline": "middle", "font": "DejaVu Sans", "fontSize": 13, "color": "#2f3d9c"}, "encoding": {"x": {"datum": -1543, "type": "quantitative", "axis": null}, "y": {"datum": 1.67, "type": "quantitative", "axis": null}}},
{"data": {"values": [{}]}, "mark": {"type": "text", "text": ["2Pk", "Max"], "lineHeight": 20, "align": "right", "baseline": "middle", "font": "DejaVu Sans", "fontSize": 13, "color": "#111111"}, "encoding": {"x": {"datum": -1543, "type": "quantitative", "axis": null}, "y": {"datum": -6.90, "type": "quantitative", "axis": null}}},

{"data": {"name": "freq_grid"}, "mark": {"type": "rule", "color": "#3a3a3a", "strokeWidth": 1.3}, "encoding": {"x": {"field": "f", "type": "quantitative", "axis": null}, "y": {"datum": 10, "type": "quantitative", "axis": null}, "y2": {"datum": -90}}},
{"data": {"name": "level_grid"}, "mark": {"type": "rule", "color": "#3a3a3a", "strokeWidth": 1.3}, "encoding": {"y": {"field": "lvl", "type": "quantitative", "axis": null}, "x": {"datum": -1500, "type": "quantitative", "axis": null}, "x2": {"datum": 1500}}},
{"data": {"name": "level_grid"}, "transform": [{"filter": "datum.lvl === 0"}], "mark": {"type": "rule", "color": "#ffffff", "strokeWidth": 14}, "encoding": {"y": {"field": "lvl", "type": "quantitative", "axis": null}, "x": {"datum": -1484, "type": "quantitative", "axis": null}, "x2": {"datum": -1226}}},
{"data": {"name": "level_grid"}, "transform": [{"filter": "datum.lvl < 0"}], "mark": {"type": "rule", "color": "#ffffff", "strokeWidth": 14}, "encoding": {"y": {"field": "lvl", "type": "quantitative", "axis": null}, "x": {"datum": -1484, "type": "quantitative", "axis": null}, "x2": {"datum": -1151}}},
{"data": {"name": "level_grid"}, "mark": {"type": "text", "align": "left", "baseline": "middle", "font": "DejaVu Sans", "fontSize": 13, "color": "#222222"}, "encoding": {"y": {"field": "lvl", "type": "quantitative", "axis": null}, "x": {"datum": -1462.4, "type": "quantitative", "axis": null}, "text": {"field": "label"}}},
{"data": {"values": [{}]}, "mark": {"type": "rect", "filled": false, "color": "#111111", "strokeWidth": 2}, "encoding": {"x": {"datum": -1500, "type": "quantitative", "axis": null}, "x2": {"datum": 1500}, "y": {"datum": 10, "type": "quantitative", "axis": null}, "y2": {"datum": -90}}},
{"data": {"values": [{}]}, "mark": {"type": "rule", "color": "#000000", "strokeWidth": 5}, "encoding": {"x": {"datum": 1511.8, "type": "quantitative", "axis": null}, "y": {"datum": 10, "type": "quantitative", "axis": null}, "y2": {"datum": -96.19}}},
{"data": {"values": [{}]}, "mark": {"type": "rule", "color": "#111111", "strokeWidth": 2}, "encoding": {"x": {"datum": 1517.1, "type": "quantitative", "axis": null}, "y": {"datum": 30.95, "type": "quantitative", "axis": null}, "y2": {"datum": 10}}},
{"data": {"values": [{}]}, "mark": {"type": "rule", "color": "#111111", "strokeWidth": 2.5}, "encoding": {"x": {"datum": -1736.4, "type": "quantitative", "axis": null}, "x2": {"datum": 1525.3}, "y": {"datum": -95.83, "type": "quantitative", "axis": null}}},
{"data": {"values": [{}]}, "mark": {"type": "text", "text": "CF 13.56 MHz", "align": "left", "baseline": "alphabetic", "font": "DejaVu Sans", "fontWeight": "bold", "fontSize": 16.5, "color": "#000000"}, "encoding": {"x": {"datum": -1489.3, "type": "quantitative", "axis": null}, "y": {"datum": -94.76, "type": "quantitative", "axis": null}}},
{"data": {"values": [{}]}, "mark": {"type": "text", "text": "Span 3.0 kHz", "align": "right", "baseline": "alphabetic", "font": "DejaVu Sans", "fontWeight": "bold", "fontSize": 16.5, "color": "#000000"}, "encoding": {"x": {"datum": 1497, "type": "quantitative", "axis": null}, "y": {"datum": -94.76, "type": "quantitative", "axis": null}}},
{"data": {"name": "panels"}, "transform": [{"filter": {"field": "panel", "equal": "-10 °C"}}], "mark": {"type": "text", "align": "left", "baseline": "alphabetic", "font": "Liberation Mono", "fontSize": 14.7, "color": "#8a8a8a"}, "encoding": {"x": {"datum": -1728.4, "type": "quantitative", "axis": null}, "y": {"datum": -103.57, "type": "quantitative", "axis": null}, "text": {"field": "date"}}},

{"data": {"name": "minus10_clrw"}, "mark": {"type": "line", "color": "#111111", "strokeWidth": 1.3}, "encoding": {"x": {"field": "f", "type": "quantitative", "axis": null}, "y": {"field": "p", "type": "quantitative", "axis": null}}},
{"data": {"name": "minus10_max"}, "mark": {"type": "line", "color": "#2f3d9c", "strokeWidth": 1.4}, "encoding": {"x": {"field": "f", "type": "quantitative", "axis": null}, "y": {"field": "p", "type": "quantitative", "axis": null}}},
{"data": {"name": "panels"}, "transform": [{"filter": {"field": "panel", "equal": "-10 °C"}}], "mark": {"type": "point", "shape": "M-1,-1.7L1,-1.7L0,0Z", "size": 100, "filled": true, "color": "#2a96cc", "opacity": 1}, "encoding": {"x": {"field": "marker_offset_hz", "type": "quantitative", "axis": null}, "y": {"field": "marker_dbm", "type": "quantitative", "axis": null}}},
{"data": {"name": "panels"}, "transform": [{"filter": {"field": "panel", "equal": "-10 °C"}}], "mark": {"type": "text", "text": "M1", "dy": -19, "align": "center", "baseline": "middle", "font": "DejaVu Sans", "fontSize": 12.5, "color": "#2a96cc"}, "encoding": {"x": {"field": "marker_offset_hz", "type": "quantitative", "axis": null}, "y": {"field": "marker_dbm", "type": "quantitative", "axis": null}}}
]
}
],
"resolve": {"scale": {"x": "independent"}}
}
